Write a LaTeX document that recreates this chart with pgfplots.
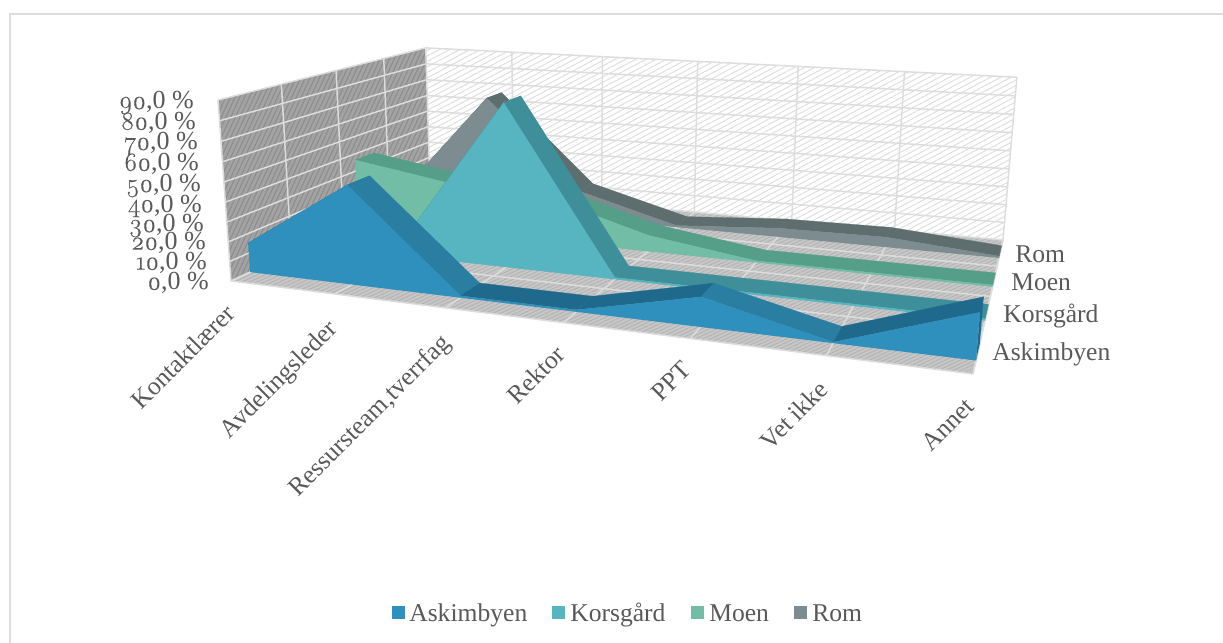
\documentclass[border=0pt]{standalone}
\usepackage{fontspec}
\setmainfont{Liberation Serif}
\newfontfamily\oldnum{Latin Modern Roman}[Numbers=OldStyle,FakeBold=0.35]
\usepackage{pgfplots}
\usepackage{pgfplotstable}
\pgfplotsset{compat=1.18}
\usetikzlibrary{patterns.meta}

\definecolor{txt}{HTML}{595959}
\definecolor{gridc}{HTML}{DDDDDD}
\definecolor{askface}{HTML}{3090BD}
\definecolor{askrib}{HTML}{2A7EA2}
\definecolor{askrise}{HTML}{1F6A8C}
\definecolor{korface}{HTML}{57B5C1}
\definecolor{korrib}{HTML}{3E8F9A}
\definecolor{moeface}{HTML}{72BDA6}
\definecolor{moerib}{HTML}{559E88}
\definecolor{romface}{HTML}{7C8C90}
\definecolor{romrib}{HTML}{5E6E6E}

% projection of (category index, depth 0..1, value in %) to picture pixels
\pgfmathdeclarefunction{PX}{3}{\pgfmathparse{(559.4*(#1)/6+330.06*(#2)+231-20.77*(#3)/90)/(1-0.1877*(#1)/6+0.3048*(#2)-0.0357*(#3)/90)}}
\pgfmathdeclarefunction{PY}{3}{\pgfmathparse{(22.8*(#1)/6-35.7*(#2)+281-184.57*(#3)/90)/(1-0.1877*(#1)/6+0.3048*(#2)-0.0357*(#3)/90)}}

\pgfplotstableread{
i v
0 15.2
1 49.9
2 1
3 1
4 14
5 0.5
6 21
6 0
0 0
}\askimbyen
\pgfplotstableread{
i v
0 5
1 8.6
2 85
3 1
4 1
5 1
6 1
6 0
0 0
}\korsgard
\pgfplotstableread{
i v
0 36.5
1 28
2 25
3 9
4 1
5 1
6 1
6 0
0 0
}\moen
\pgfplotstableread{
i v
0 6
1 67.5
2 16
3 1
4 5
5 5.6
6 1
6 0
0 0
}\rom

% one straight piece of grid
\newcommand{\gridline}[6]{%
  \addplot[gridc,line width=1.1pt] coordinates {({PX(#1,#2,#3)},{PY(#1,#2,#3)}) ({PX(#4,#5,#6)},{PY(#4,#5,#6)})};
}
% table, front depth, face colour, falling ribbon colour, flat or rising ribbon colour
\newcommand{\areaseries}[5]{%
  \pgfplotsinvokeforeach{0,...,5}{%
    \pgfmathtruncatemacro\nxt{##1+1}%
    \pgfplotstablegetelem{##1}{v}\of{#1}\let\va\pgfplotsretval
    \pgfplotstablegetelem{\nxt}{v}\of{#1}\let\vb\pgfplotsretval
    \pgfmathsetmacro\dw{#2+0.1}%
    \ifdim\va pt>\vb pt\def\col{#4}\else\def\col{#5}\fi
    \edef\temp{\noexpand\addplot[fill=\col,draw=\col,line width=0.2pt] coordinates {
      ({PX(##1,#2,\va)},{PY(##1,#2,\va)})
      ({PX(\nxt,#2,\vb)},{PY(\nxt,#2,\vb)})
      ({PX(\nxt,\dw,\vb)},{PY(\nxt,\dw,\vb)})
      ({PX(##1,\dw,\va)},{PY(##1,\dw,\va)})
    };}\temp
  }
  \pgfplotstablegetelem{6}{v}\of{#1}\let\va\pgfplotsretval
  \pgfmathsetmacro\dw{#2+0.1}%
  \edef\temp{\noexpand\addplot[fill=#5,draw=none] coordinates {
    ({PX(6,#2,0)},{PY(6,#2,0)}) ({PX(6,\dw,0)},{PY(6,\dw,0)})
    ({PX(6,\dw,\va)},{PY(6,\dw,\va)}) ({PX(6,#2,\va)},{PY(6,#2,\va)})
  };}\temp
  \addplot[fill=#3,draw=none] table[x expr={PX(\thisrow{i},#2,\thisrow{v})},y expr={PY(\thisrow{i},#2,\thisrow{v})}] {#1};
}
\newcommand{\pct}[1]{{\oldnum #1},0 \%}

\begin{document}
\begin{tikzpicture}[x=0.75pt,y=0.75pt]
\useasboundingbox (0,0) rectangle (1223,642);
\begin{axis}[
    at={(0,0)},anchor=south west,
    scale only axis,
    width=917.25pt,height=481.5pt,
    xmin=0,xmax=1223,ymin=0,ymax=642,y dir=reverse,
    hide axis,clip=false,no markers,
    every axis plot/.append style={solid},
]
% frame: only its left and top edges are inside the picture
\addplot[gridc,line width=1.5pt] coordinates {(10,660) (10,14) (1240,14)};

% walls and floor
\addplot[draw=none,fill=white,postaction={pattern={Lines[angle=28,distance=3.6pt,line width=0.7pt]},pattern color=gridc}] coordinates {
  ({PX(0,1,0)},{PY(0,1,0)}) ({PX(6,1,0)},{PY(6,1,0)}) ({PX(6,1,90)},{PY(6,1,90)}) ({PX(0,1,90)},{PY(0,1,90)})};
\addplot[draw=none,fill=black!36,postaction={pattern={Lines[angle=65,distance=3.2pt,line width=0.8pt]},pattern color=black!45}] coordinates {
  ({PX(0,0,0)},{PY(0,0,0)}) ({PX(0,1,0)},{PY(0,1,0)}) ({PX(0,1,90)},{PY(0,1,90)}) ({PX(0,0,90)},{PY(0,0,90)})};
\addplot[draw=none,fill=black!22,postaction={pattern={Lines[angle=25,distance=2.4pt,line width=0.5pt]},pattern color=black!32}] coordinates {
  ({PX(0,0,0)},{PY(0,0,0)}) ({PX(6,0,0)},{PY(6,0,0)}) ({PX(6,1,0)},{PY(6,1,0)}) ({PX(0,1,0)},{PY(0,1,0)})};

% grid
\pgfplotsinvokeforeach{0,10,...,90}{\gridline{0}{0}{#1}{0}{1}{#1}\gridline{0}{1}{#1}{6}{1}{#1}}
\pgfplotsinvokeforeach{0,1,...,6}{\gridline{#1}{1}{0}{#1}{1}{90}\gridline{#1}{0}{0}{#1}{1}{0}}
\pgfplotsinvokeforeach{0,0.25,0.5,0.75}{\gridline{0}{#1}{0}{0}{#1}{90}\gridline{0}{#1}{0}{6}{#1}{0}}
\gridline{6}{0}{0}{6}{1}{0}

% series, back to front
\areaseries{\rom}{0.825}{romface}{romrib}{romrib}
\areaseries{\moen}{0.575}{moeface}{moerib}{moerib}
\areaseries{\korsgard}{0.325}{korface}{korrib}{korrib}
\areaseries{\askimbyen}{0.075}{askface}{askrib}{askrise}

% value labels
\begin{scope}[every node/.style={text=txt,font=\fontsize{19.5}{20}\selectfont,anchor=east,inner sep=0pt}]
\node at (axis cs:194,103) {\pct{90}};
\node at (axis cs:196,123) {\pct{80}};
\node at (axis cs:198,144) {\pct{70}};
\node at (axis cs:199,164) {\pct{60}};
\node at (axis cs:201,186) {\pct{50}};
\node at (axis cs:202,206) {\pct{40}};
\node at (axis cs:204,226) {\pct{30}};
\node at (axis cs:206,243) {\pct{20}};
\node at (axis cs:207,263) {\pct{10}};
\node at (axis cs:209,283) {\pct{0}};
\end{scope}

% category labels
\begin{scope}[every node/.style={text=txt,font=\fontsize{19.2}{20}\selectfont,anchor=base east,rotate=45,inner sep=0pt}]
\node at (axis cs:237,315) {Kontaktlærer};
\node at (axis cs:339,330) {Avdelingsleder};
\node at (axis cs:452,344) {Ressursteam,tverrfag};
\node at (axis cs:567,356) {Rektor};
\node at (axis cs:693,371) {PPT};
\node at (axis cs:830,391) {Vet ikke};
\node at (axis cs:976,408) {Annet};
\end{scope}

% series labels
\begin{scope}[every node/.style={text=txt,font=\fontsize{19.2}{20}\selectfont,anchor=base west,inner sep=0pt}]
\node at (axis cs:1015,262) {Rom};
\node at (axis cs:1011,290) {Moen};
\node at (axis cs:1003,322) {Korsgård};
\node at (axis cs:992,360) {Askimbyen};
\node at (axis cs:409,621) {Askimbyen};
\node at (axis cs:570,621) {Korsgård};
\node at (axis cs:709,621) {Moen};
\node at (axis cs:812,621) {Rom};
\end{scope}
\fill[askface] (axis cs:392,606) rectangle (axis cs:405,619);
\fill[korface] (axis cs:552,606) rectangle (axis cs:565,619);
\fill[moeface] (axis cs:691,606) rectangle (axis cs:704,619);
\fill[romface] (axis cs:794,606) rectangle (axis cs:807,619);
\end{axis}
\end{tikzpicture}
\end{document}
